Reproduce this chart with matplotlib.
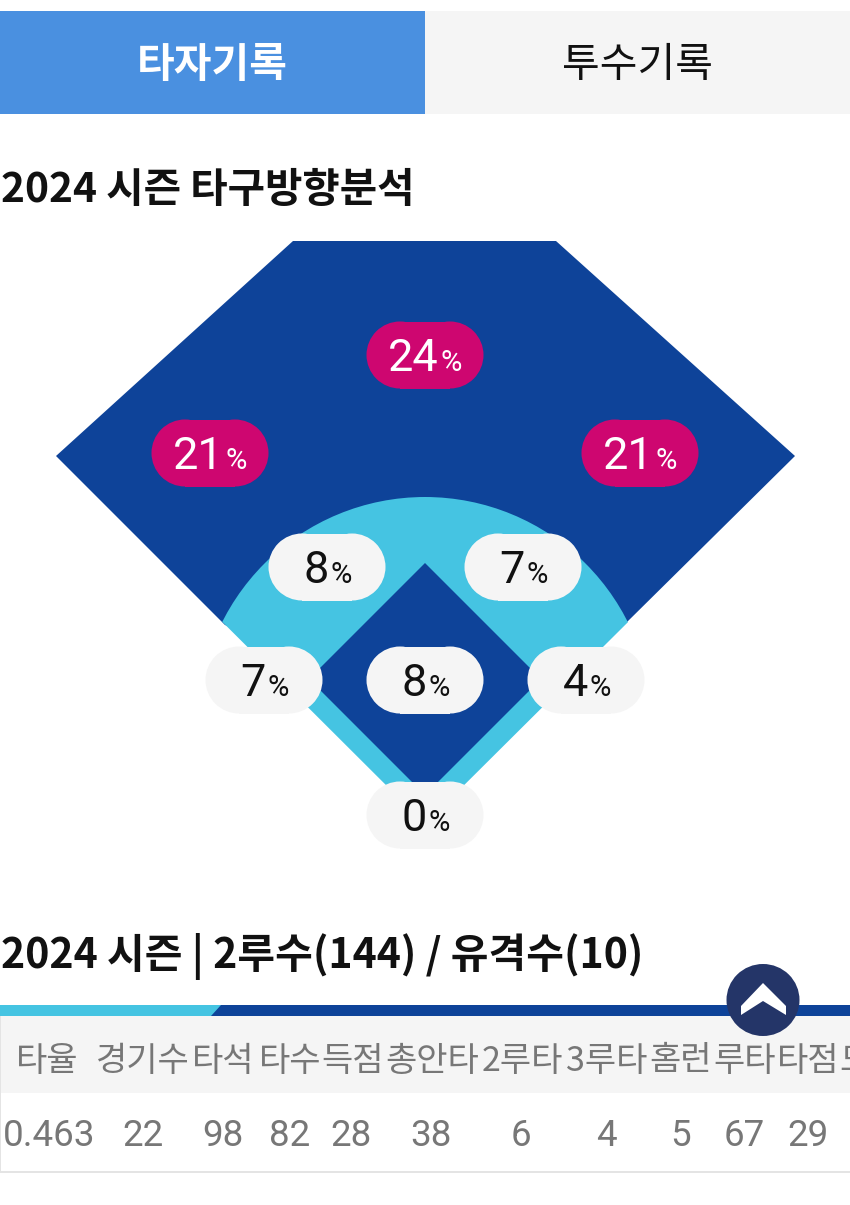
import matplotlib
matplotlib.use("Agg")
import matplotlib.pyplot as plt
from matplotlib.patches import Polygon, Circle, Rectangle, Ellipse

plt.rcParams['font.family'] = ['Noto Sans CJK KR', 'DejaVu Sans']

W, H = 850, 1205
NAVY, SKY, PINK, PALE = '#0E4399', '#45C4E2', '#CE0670', '#F5F5F5'

tabs = ['타자기록', '투수기록']
section_titles = ['2024 시즌 타구방향분석', '2024 시즌 | 2루수(144) / 유격수(10)']
zone_values = [24, 21, 21, 8, 7, 7, 8, 4, 0]
zone_pos = [(425, 355), (210, 453), (640, 453), (327, 567), (523, 567),
            (264, 680), (425, 680), (586, 680), (425, 815)]
zone_hot = [True, True, True, False, False, False, False, False, False]
columns = ['타율', '경기수', '타석', '타수', '득점', '총안타', '2루타', '3루타', '홈런', '루타', '타점', '도루']
column_x = [47, 143, 223, 290, 353, 432, 522, 607, 681, 745, 808, 871]
values = ['0.463', '22', '98', '82', '28', '38', '6', '4', '5', '67', '29']
value_x = [49, 143, 223, 290, 351, 431, 521, 606, 681, 744, 808]

fig = plt.figure(figsize=(W / 100, H / 100), dpi=100, facecolor='white')
ax = fig.add_axes([0, 0, 1, 1])
ax.set_xlim(0, W)
ax.set_ylim(H, 0)
ax.axis('off')

# tabs
ax.add_patch(Rectangle((0, 11), 425, 103, fc='#4A90E0', ec='none'))
ax.add_patch(Rectangle((425, 11), 425, 103, fc=PALE, ec='none'))
ax.text(212, 65, tabs[0], color='white', fontsize=29.5, fontweight='bold', ha='center', va='center')
ax.text(638, 65, tabs[1], color='#111111', fontsize=29.5, fontweight='medium', ha='center', va='center')

# section titles
ax.text(1, 190, section_titles[0], color='#111111', fontsize=29.3, fontweight='bold', ha='left', va='center')
ax.text(1, 956, section_titles[1], color='#111111', fontsize=29.5, fontweight='bold', ha='left', va='center')

# field
ax.add_patch(Polygon([(293, 241), (556, 241), (795, 456), (625, 624), (425, 700), (225, 625), (56, 456)],
                     closed=True, fc=NAVY, ec='none'))
field_clip = Polygon([(293, 241), (556, 241), (795, 456), (425, 824), (56, 456)], closed=True,
                     fc='none', ec='none', transform=ax.transData)
infield = Circle((425, 724), 227, fc=SKY, ec='none', zorder=2)
ax.add_patch(infield)
infield.set_clip_path(field_clip)
ax.add_patch(Polygon([(425, 563), (541, 679), (425, 795), (309, 679)], closed=True, fc=NAVY, ec='none', zorder=3))

# zone pills
for v, (cx, cy), hot in zip(zone_values, zone_pos, zone_hot):
    pw, ph = 117, 67
    r = ph / 2
    fc = PINK if hot else PALE
    ax.add_patch(Rectangle((cx - pw / 2 + r, cy - r), pw - 2 * r, ph, fc=fc, ec='none', zorder=4))
    ax.add_patch(Circle((cx - pw / 2 + r, cy), r, fc=fc, ec='none', zorder=4))
    ax.add_patch(Circle((cx + pw / 2 - r, cy), r, fc=fc, ec='none', zorder=4))
    col = 'white' if hot else '#111111'
    n = len(str(v))
    split = cx + (14 if n == 2 else 2)
    ax.text(split, cy + 16, str(v), color=col, fontsize=32.5, family='Roboto', ha='right', va='baseline', zorder=5)
    ax.text(split + 2, cy + 16, '%', color=col, fontsize=21, family='Roboto', ha='left', va='baseline', zorder=5)

# stripe above the table
ax.add_patch(Rectangle((0, 1005), W, 11, fc=NAVY, ec='none'))
ax.add_patch(Polygon([(0, 1005), (221, 1005), (211, 1016), (0, 1016)], closed=True, fc=SKY, ec='none'))

# table
ax.add_patch(Rectangle((0, 1016), W, 77, fc=PALE, ec='none'))
ax.add_patch(Rectangle((0, 1171), W, 2, fc='#E4E4E4', ec='none'))
ax.add_patch(Rectangle((0, 1016), 1.5, 157, fc='#E4E4E4', ec='none'))
for name, x in zip(columns, column_x):
    ax.text(x, 1061, name, color='#777777', fontsize=24.5, ha='center', va='center', clip_on=True)
for val, x in zip(values, value_x):
    ax.text(x, 1146, val, color='#777777', fontsize=26.5, family='Roboto', ha='center', va='baseline')

# scroll-to-top button
ax.add_patch(Ellipse((763, 1000), 73, 72, fc='#243568', ec='none', zorder=6))
ax.add_patch(Polygon([(763, 983), (786, 1006), (786, 1015), (763, 1001), (741, 1015), (741, 1006)],
                     closed=True, fc='white', ec='none', zorder=7))

fig.savefig('out.png', dpi=100, facecolor='white')
